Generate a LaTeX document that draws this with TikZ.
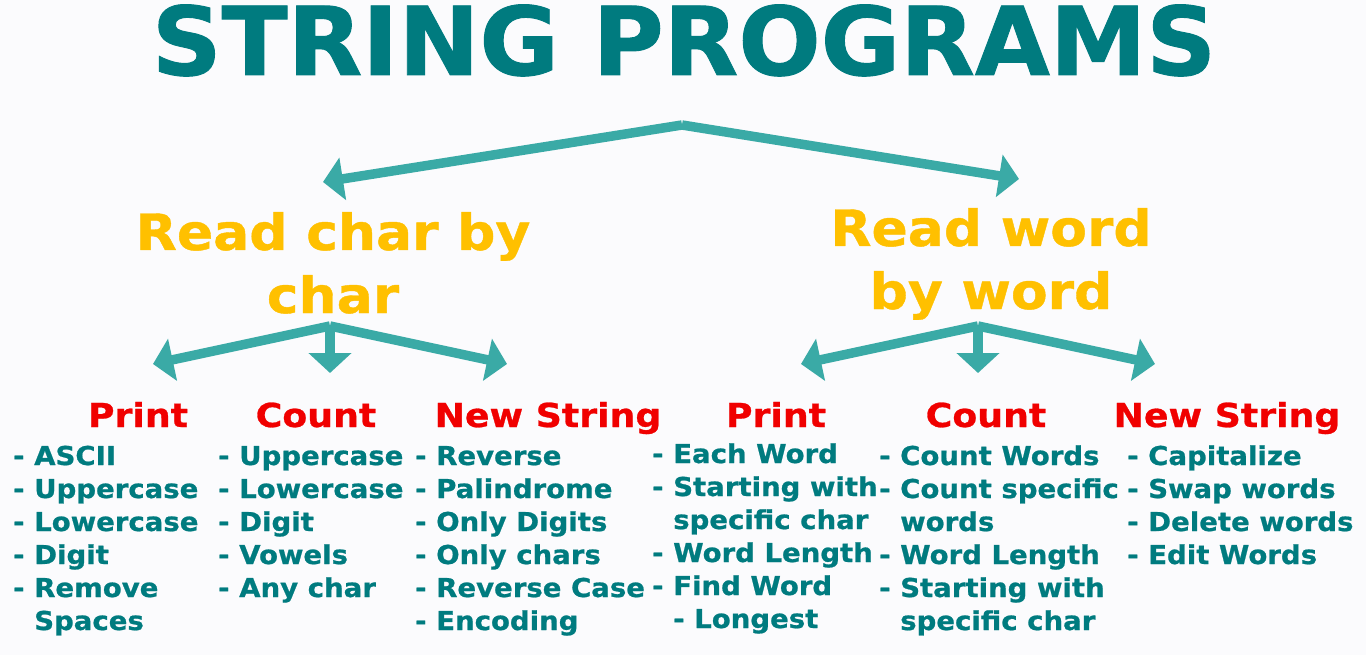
\documentclass[tikz,border=0pt]{standalone}
\usepackage{fontspec}
\usetikzlibrary{arrows.meta}
\newfontfamily\vb[FakeStretch=1.06,FakeBold=0.8]{DejaVu Sans Bold}
\newfontfamily\vbh[FakeStretch=1.1,FakeBold=0.8]{DejaVu Sans Bold}
\newfontfamily\vbb[FakeStretch=1.07,FakeBold=0.8]{DejaVu Sans Bold}
\newfontfamily\vbt[FakeStretch=1.02,FakeBold=1]{DejaVu Sans Bold}
\definecolor{bgc}{HTML}{FBFBFD}
\definecolor{tealtxt}{HTML}{007B7F}
\definecolor{arrowc}{HTML}{3AAAA6}
\definecolor{gold}{HTML}{FFC000}
\definecolor{redh}{HTML}{F00000}
\begin{document}
\begin{tikzpicture}[x=1pt,y=-1pt,
  titletext/.style={font=\vbt\fontsize{95}{100}\selectfont, text=tealtxt, anchor=base, inner sep=0pt},
  branch/.style={font=\vbb\fontsize{50}{63}\selectfont, text=gold, anchor=base, inner sep=0pt},
  headtext/.style={font=\vbh\fontsize{33}{40}\selectfont, text=redh, anchor=base, inner sep=0pt},
  item/.style={font=\vb\fontsize{26}{33}\selectfont, text=tealtxt, anchor=base west, inner sep=0pt},
  conn/.style={draw=arrowc, line width=9.5pt, -{Triangle[width=42pt,length=20pt]}}
]
\fill[bgc] (0,0) rectangle (1366,655);
\useasboundingbox (0,0) rectangle (1366,655);

\node[titletext] (title) at (684,75) {STRING PROGRAMS};

% top split
\coordinate (top) at (682,125);
\coordinate (tipL) at (323,182);
\coordinate (tipR) at (1019,179);
\draw[conn] (top) -- (tipL);
\draw[conn] (top) -- (tipR);

% branch headings
\node[branch] (rcA) at (333,250) {Read char by};
\node[branch] (rcB) at (333,313) {char};
\node[branch] (rwA) at (991,246) {Read word};
\node[branch] (rwB) at (991,309) {by word};

% left sub-arrows
\coordinate (la) at (330,326);
\coordinate (la1) at (153,364);
\coordinate (la2) at (330,373);
\coordinate (la3) at (507,364);
\draw[conn] (la) -- (la1);
\draw[conn] (la) -- (la2);
\draw[conn] (la) -- (la3);

% right sub-arrows
\coordinate (ra) at (978,326);
\coordinate (ra1) at (801,364);
\coordinate (ra2) at (978,373);
\coordinate (ra3) at (1155,364);
\draw[conn] (ra) -- (ra1);
\draw[conn] (ra) -- (ra2);
\draw[conn] (ra) -- (ra3);

% red headings
\node[headtext] (h1) at (138,427) {Print};
\node[headtext] (h2) at (316,427) {Count};
\node[headtext] (h3) at (548,427) {New String};
\node[headtext] (h4) at (776,427) {Print};
\node[headtext] (h5) at (986,427) {Count};
\node[headtext] (h6) at (1227,427) {New String};

% columns
\foreach \t [count=\i] in {- ASCII, - Uppercase, - Lowercase, - Digit, - Remove, \phantom{- }Spaces}
  \node[item] (c1-\i) at (13,{465+33*(\i-1)}) {\t};
\foreach \t [count=\i] in {- Uppercase, - Lowercase, - Digit, - Vowels, - Any char}
  \node[item] (c2-\i) at (218,{465+33*(\i-1)}) {\t};
\foreach \t [count=\i] in {- Reverse, - Palindrome, - Only Digits, - Only chars, - Reverse Case, - Encoding}
  \node[item] (c3-\i) at (415,{465+33*(\i-1)}) {\t};
\foreach \t [count=\i] in {- Each Word, - Starting with, \phantom{- }specific char, - Word Length, - Find Word, \phantom{- }- Longest}
  \node[item] (c4-\i) at (652,{463+33*(\i-1)}) {\t};
\foreach \t [count=\i] in {- Count Words, - Count specific, \phantom{- }words, - Word Length, - Starting with, \phantom{- }specific char}
  \node[item] (c5-\i) at (879,{465+33*(\i-1)}) {\t};
\foreach \t [count=\i] in {- Capitalize, - Swap words, - Delete words, - Edit Words}
  \node[item] (c6-\i) at (1127,{465+33*(\i-1)}) {\t};
\end{tikzpicture}
\end{document}
